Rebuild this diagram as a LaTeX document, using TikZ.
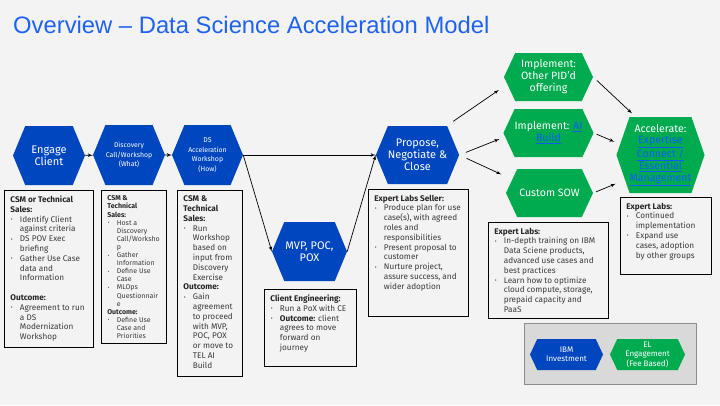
\documentclass[tikz,border=0pt]{standalone}
\usepackage{xcolor}
\usepackage{fontspec}
\setmainfont{Fira Sans}
\newfontfamily\titlefont{Liberation Sans}
\usepackage{tikz}
\usetikzlibrary{arrows,calc,positioning,shapes.symbols}

\definecolor{bggray}{HTML}{F3F3F3}
\definecolor{titleblue}{HTML}{1F62F2}
\definecolor{ibmblue}{HTML}{0046BE}
\definecolor{elgreen}{HTML}{00AA4F}
\definecolor{linkblue}{HTML}{0F5BFF}
\definecolor{textgray}{HTML}{3A3A3A}
\definecolor{legendgray}{HTML}{D9D9D9}

\newcommand{\hexbig}{\fontsize{11}{12.2}\selectfont}
\newcommand{\hexsmall}{\fontsize{6.9}{9.4}\selectfont}
\newcommand{\hexgreen}{\fontsize{10.6}{11.9}\selectfont}
\newcommand{\legendfont}{\fontsize{8}{9.5}\selectfont}
\newcommand{\bodyfont}{\fontsize{8.2}{9.8}\selectfont}
\newcommand{\smallbody}{\fontsize{7}{8.1}\selectfont}

\newcommand{\link}[1]{\textcolor{linkblue}{\underline{#1}}}
\newcommand{\hd}[1]{\textbf{\color{black!85}#1}}
\newcommand{\bitem}[1]{\par\noindent\hangindent=9.5pt\hangafter=1%
  \makebox[9.5pt][l]{\hspace{0.5pt}\raisebox{0.15ex}{\scalebox{0.7}{\textbullet}}}#1}
\newcommand{\infotext}[3]{\parbox[t][#2][t]{#1}{\raggedright\let\\\newline #3}}

\begin{document}
\begin{tikzpicture}[x=1pt,y=-1pt]

\tikzset{hexb/.style = {shape=signal,signal to=east and west,signal pointer angle=135,
  fill=ibmblue,text=white,inner sep=0pt,align=center,font=\hexbig}}
\tikzset{hexg/.style = {hexb,fill=elgreen,signal pointer angle=130,font=\hexgreen}}
\tikzset{infobox/.style = {draw=black,line width=0.8pt,anchor=north west,
  inner xsep=6pt,inner ysep=5.5pt,text=textgray,font=\bodyfont}}
\tikzset{edge/.style = {->,> = latex',line width=0.7pt}}

% background and title
\fill[bggray] (0,0) rectangle (720,405);
\useasboundingbox (0,0) rectangle (720,405);
\node[anchor=base west,inner sep=0pt,text=titleblue,font=\titlefont\fontsize{23.8}{28}\selectfont]
  (title) at (13,33) {Overview – Data Science Acceleration Model};

% hexagons
\node[hexb,minimum width=72pt,minimum height=59pt] (engage) at (49,155.5) {Engage\\Client};
\node[hexb,font=\hexsmall,minimum width=72pt,minimum height=60pt] (discovery) at (129,155) {Discovery\\Call/Workshop\\(What)};
\node[hexb,font=\hexsmall,minimum width=71pt,minimum height=60pt] (dsaccel) at (207.5,155) {DS\\Acceleration\\Workshop\\(How)};
\node[hexb,minimum width=75pt,minimum height=59pt] (mvp) at (309.5,251.5) {MVP, POC,\\POX};
\node[hexb,minimum width=81pt,minimum height=58pt] (propose) at (417.5,155) {Propose,\\Negotiate \&\\Close};
\node[hexg,minimum width=89pt,minimum height=48pt] (other) at (548.5,77) {Implement:\\Other PID’d\\offering};
\node[hexg,minimum width=89pt,minimum height=48pt] (aibuild) at (548.5,133) {Implement: \link{AI}\\\link{Build}};
\node[hexg,minimum width=87pt,minimum height=48pt] (sow) at (549.5,193) {Custom SOW};
\node[hexg,signal pointer angle=142,minimum width=87pt,minimum height=76pt] (accel) at (660.5,155)
  {Accelerate:\\\link{Expertise}\\\link{Connect /}\\\link{Essential}\\\link{Management}};

% text boxes
\node[infobox] (csmbox) at (4,190) {\infotext{77.2pt}{146.2pt}{%
  \noindent\hd{CSM or Technical\\Sales:}
  \bitem{Identify Client\\against criteria}
  \bitem{DS POV Exec\\briefing}
  \bitem{Gather Use Case\\data and\\Information}
  \par\vspace{9.8pt}\noindent\hd{Outcome:}
  \bitem{Agreement to run\\a DS\\Modernization\\Workshop}}};
\node[infobox,font=\smallbody] (discbox) at (101,190) {\infotext{53.2pt}{142.2pt}{%
  \noindent\hd{CSM \&\\Technical\\Sales:}
  \bitem{Host a\\Discovery\\Call/Worksho\\p}
  \bitem{Gather\\Information}
  \bitem{Define Use\\Case}
  \bitem{MLOps\\Questionnair\\e}
  \par\noindent\hd{Outcome:}
  \bitem{Define Use\\Case and\\Priorities}}};
\node[infobox] (dsbox) at (177,190) {\infotext{53.2pt}{175.2pt}{%
  \noindent\hd{CSM \&\\Technical\\Sales:}
  \bitem{Run\\Workshop\\based on\\input from\\Discovery\\Exercise}
  \par\noindent\hd{Outcome:}
  \bitem{Gain\\agreement\\to proceed\\with MVP,\\POC, POX\\or move to\\TEL AI\\Build}}};
\node[infobox] (cebox) at (264,289) {\infotext{80.2pt}{66.2pt}{%
  \noindent\hd{Client Engineering:}
  \bitem{Run a PoX with CE}
  \bitem{\hd{Outcome:} client\\agrees to move\\forward on\\journey}}};
\node[infobox] (sellerbox) at (368,189) {\infotext{88.2pt}{116.2pt}{%
  \noindent\hd{Expert Labs Seller:}
  \bitem{Produce plan for use\\case(s), with agreed\\roles and\\responsibilities}
  \bitem{Present proposal to\\customer}
  \bitem{Nurture project,\\assure success, and\\wider adoption}}};
\node[infobox] (labsbox) at (488,222) {\infotext{108.2pt}{85.2pt}{%
  \noindent\hd{Expert Labs:}
  \bitem{In-depth training on IBM\\Data Sciene products,\\advanced use cases and\\best practices}
  \bitem{Learn how to optimize\\cloud compute, storage,\\prepaid capacity and\\PaaS}}};
\node[infobox] (accelbox) at (620,197) {\infotext{79.2pt}{66.2pt}{%
  \noindent\hd{Expert Labs:}
  \bitem{Continued\\implementation}
  \bitem{Expand use\\cases, adoption\\by other groups}}};

% legend
\node[draw=black!45,line width=0.8pt,fill=legendgray,minimum width=172pt,minimum height=61pt,inner sep=0pt]
  (legend) at (610,353.5) {};
\node[hexb,font=\legendfont,signal pointer angle=130,minimum width=73pt,minimum height=31pt] (ibminv) at (566.5,354.5) {IBM\\Investment};
\node[hexg,font=\legendfont,minimum width=75pt,minimum height=31pt] (elfee) at (647.5,354.5) {EL\\Engagement\\(Fee Based)};

% edges
\draw[edge] (engage) -- (discovery);
\draw[edge] (discovery) -- (dsaccel);
\draw[edge] (dsaccel.east) -- (propose.west);
\draw[edge] (dsaccel.east) -- (mvp.west);
\draw[edge] (mvp.east) -- (propose.west);
\draw[edge,shorten <=8pt,shorten >=10pt] (propose.45) -- (other.190);
\draw[edge,shorten <=7pt,shorten >=6pt] (propose.east) -- (aibuild.185);
\draw[edge,shorten <=8pt,shorten >=12pt] (propose.east) -- (sow.160);
\draw[edge,shorten <=5pt,shorten >=5pt] (other.east) -- (accel.123);
\draw[edge,shorten <=3pt,shorten >=6pt] (aibuild.east) -- (accel.165);
\draw[edge,shorten <=3pt,shorten >=10pt] (sow.east) -- (accel.215);
\end{tikzpicture}
\end{document}
